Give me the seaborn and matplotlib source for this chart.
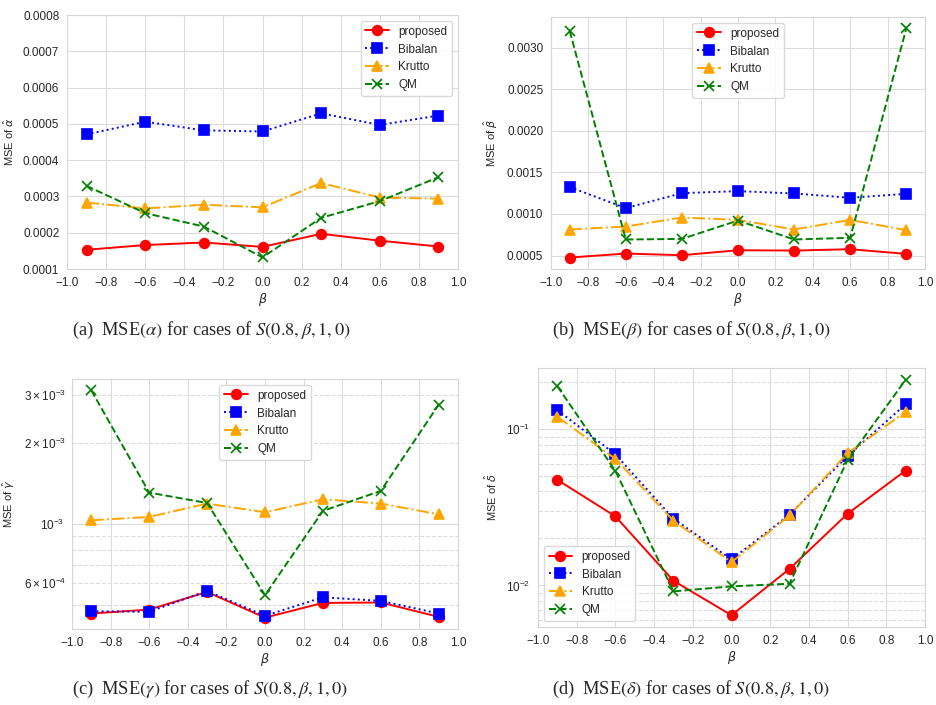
import numpy as np
import pandas as pd
import matplotlib
matplotlib.use('Agg')
import matplotlib.pyplot as plt
import seaborn as sns

# beta values (x axis) shared by all four panels
beta = [-0.9, -0.6, -0.3, 0.0, 0.3, 0.6, 0.9]
methods = ['proposed', 'Bibalan', 'Krutto', 'QM']
xticks = [-1.0, -0.8, -0.6, -0.4, -0.2, 0.0, 0.2, 0.4, 0.6, 0.8, 1.0]

# MSE of alpha-hat
alpha_proposed = [0.000153, 0.000166, 0.000173, 0.000161, 0.000197, 0.000178, 0.000162]
alpha_bibalan = [0.000471, 0.000506, 0.000482, 0.000479, 0.000529, 0.000497, 0.000523]
alpha_krutto = [0.000283, 0.000267, 0.000277, 0.000270, 0.000337, 0.000297, 0.000294]
alpha_qm = [0.000329, 0.000254, 0.000217, 0.000132, 0.000241, 0.000287, 0.000353]

# MSE of beta-hat
beta_proposed = [0.000476, 0.000524, 0.000504, 0.000564, 0.000560, 0.000576, 0.000520]
beta_bibalan = [0.001323, 0.001070, 0.001250, 0.001274, 0.001246, 0.001194, 0.001242]
beta_krutto = [0.000813, 0.000849, 0.000957, 0.000929, 0.000813, 0.000929, 0.000805]
beta_qm = [0.003200, 0.000693, 0.000700, 0.000921, 0.000693, 0.000713, 0.003229]

# MSE of gamma-hat (log scale)
gamma_proposed = [4.63e-4, 4.79e-4, 5.57e-4, 4.47e-4, 5.07e-4, 5.09e-4, 4.50e-4]
gamma_bibalan = [4.72e-4, 4.70e-4, 5.62e-4, 4.54e-4, 5.32e-4, 5.16e-4, 4.63e-4]
gamma_krutto = [1.029e-3, 1.059e-3, 1.187e-3, 1.102e-3, 1.232e-3, 1.187e-3, 1.083e-3]
gamma_qm = [3.13e-3, 1.304e-3, 1.193e-3, 5.42e-4, 1.115e-3, 1.323e-3, 2.77e-3]

# MSE of delta-hat (log scale)
delta_proposed = [0.0475, 0.0277, 0.01071, 0.00644, 0.01277, 0.0288, 0.0545]
delta_bibalan = [0.1328, 0.0692, 0.0268, 0.01466, 0.0284, 0.0676, 0.145]
delta_krutto = [0.1205, 0.0647, 0.0260, 0.0141, 0.0281, 0.0703, 0.1298]
delta_qm = [0.189, 0.0542, 0.00916, 0.00986, 0.01025, 0.0637, 0.208]

styles = {
    'proposed': dict(color='red', marker='o', linestyle='-'),
    'Bibalan': dict(color='blue', marker='s', linestyle=':'),
    'Krutto': dict(color='orange', marker='^', linestyle='-.'),
    'QM': dict(color='green', marker='x', linestyle='--'),
}

sns.set_style('whitegrid')
plt.rcParams['font.family'] = ['Liberation Sans', 'DejaVu Sans']
plt.rcParams['mathtext.fontset'] = 'dejavusans'
plt.rcParams['axes.edgecolor'] = '#d6d6d6'
plt.rcParams['grid.color'] = '#dcdcdc'

fig = plt.figure(figsize=(9.36, 7.05), dpi=100)

panels = [
    ([alpha_proposed, alpha_bibalan, alpha_krutto, alpha_qm], r'MSE of $\hat{\alpha}$',
     [67/936, 1-269/705, 391/936, 254/705], 'linear', 'upper right'),
    ([beta_proposed, beta_bibalan, beta_krutto, beta_qm], r'MSE of $\hat{\beta}$',
     [551/936, 1-269/705, 374/936, 252/705], 'linear', 'upper center'),
    ([gamma_proposed, gamma_bibalan, gamma_krutto, gamma_qm], r'MSE of $\hat{\gamma}$',
     [72/936, 1-629/705, 386/936, 250/705], 'log', 'upper center'),
    ([delta_proposed, delta_bibalan, delta_krutto, delta_qm], r'MSE of $\hat{\delta}$',
     [538/936, 1-627/705, 387/936, 259/705], 'log', 'lower left'),
]

axes = []
for series, ylab, rect, scale, loc in panels:
    ax = fig.add_axes(rect)
    for name, vals in zip(methods, series):
        st = styles[name]
        sns.lineplot(x=beta, y=vals, ax=ax, label=name, color=st['color'],
                     marker=st['marker'], linestyle=st['linestyle'],
                     markersize=7, markeredgecolor=st['color'],
                     markeredgewidth=1.2, linewidth=1.4)
    ax.set_yscale(scale)
    ax.set_xlim(-1.0, 1.0)
    ax.set_xticks(xticks)
    ax.set_xticklabels([f'{t:.1f}'.replace('-', '\u2212') for t in xticks])
    ax.set_xlabel(r'$\beta$', fontsize=9, labelpad=2)
    ax.set_ylabel(ylab, fontsize=8, labelpad=5)
    ax.tick_params(labelsize=8.5, colors='#262626', pad=2)
    if scale == 'log':
        ax.grid(True, which='minor', linestyle='--', color='#dcdcdc', linewidth=0.8)
        ax.tick_params(which='minor', labelsize=8.5, pad=2)
    ax.legend(loc=loc, fontsize=8.5, frameon=True, facecolor='white',
              edgecolor='#d6d6d6', framealpha=0.9)
    axes.append(ax)

axes[0].set_ylim(0.0001, 0.0008)

captions = [
    (72, 330, r'(a)  MSE$(\alpha)$ for cases of $S(0.8,\beta,1,0)$'),
    (552, 330, r'(b)  MSE$(\beta)$ for cases of $S(0.8,\beta,1,0)$'),
    (72, 689, r'(c)  MSE$(\gamma)$ for cases of $S(0.8,\beta,1,0)$'),
    (552, 689, r'(d)  MSE$(\delta)$ for cases of $S(0.8,\beta,1,0)$'),
]
for x, y, txt in captions:
    fig.text(x/936, 1-y/705, txt, ha='left', va='center', fontsize=13.2,
             family='Liberation Serif', math_fontfamily='stix')

fig.savefig('out.png', dpi=100)
